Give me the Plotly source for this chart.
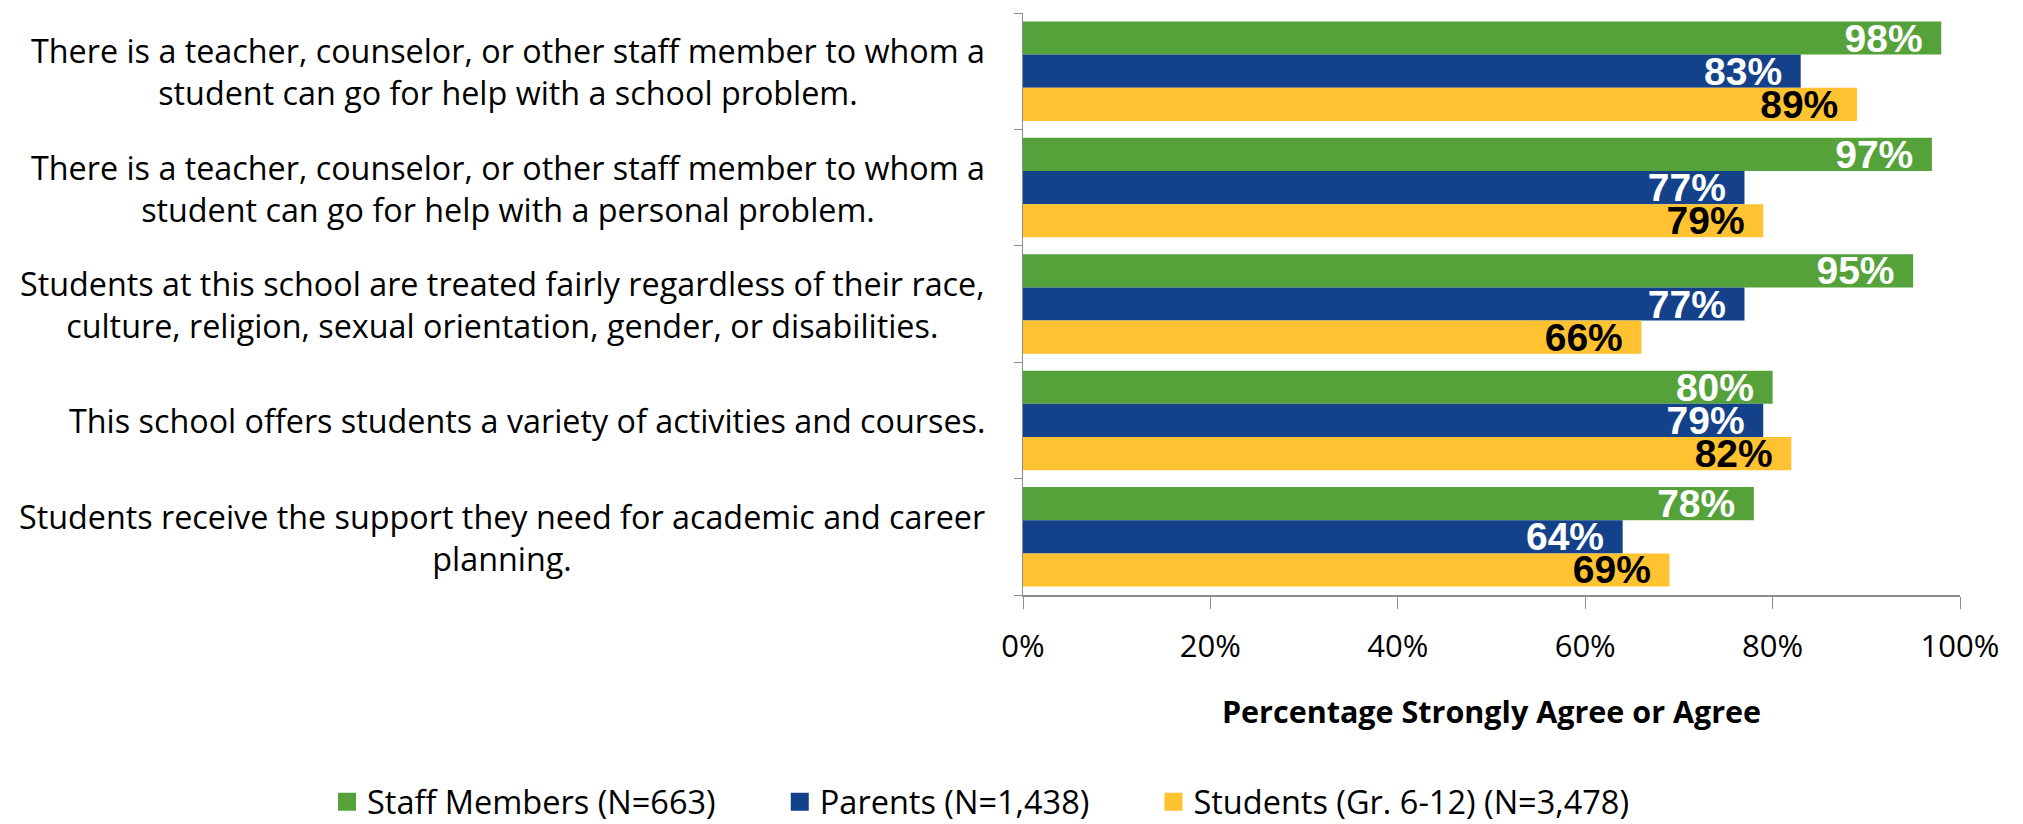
import plotly.graph_objects as go

categories = [
    "There is a teacher, counselor, or other staff member to whom a<br>student can go for help with a school problem.",
    "There is a teacher, counselor, or other staff member to whom a<br>student can go for help with a personal problem.",
    "Students at this school are treated fairly regardless of their race,<br>culture, religion, sexual orientation, gender, or disabilities.",
    "This school offers students a variety of activities and courses.",
    "Students receive the support they need for academic and career<br>planning.",
]
series_names = ["Staff Members (N=663)", "Parents (N=1,438)", "Students (Gr. 6-12) (N=3,478)"]
staff = [98, 97, 95, 80, 78]
parents = [83, 77, 77, 79, 64]
students = [89, 79, 66, 82, 69]
x_ticks = [0, 20, 40, 60, 80, 100]
x_tick_labels = ["0%", "20%", "40%", "60%", "80%", "100%"]
axis_title = "Percentage Strongly Agree or Agree"

colors = ["#55A23A", "#14428A", "#FFC230"]
label_colors = ["white", "white", "black"]
keys = list(range(len(categories)))

# page body has an 8px margin; figure sized so it fits the window
W, H = 2015, 816
L, R, T, B = 1015, 63, 5, 229
PW, PH = W - L - R, H - T - B

fig = go.Figure()
for name, vals, col, lc in zip(series_names, [staff, parents, students], colors, label_colors):
    fig.add_trace(go.Bar(
        y=keys, x=vals, name=name, orientation="h", showlegend=False,
        marker=dict(color=col, line=dict(width=0)),
        text=[f"{v}%\u2009\u2009" for v in vals],
        textposition="inside", insidetextanchor="end",
        constraintext="none",
        textfont=dict(family="Liberation Sans", size=39, color=lc, weight="bold"),
        hoverinfo="skip",
    ))
# legend entries with larger square swatches
for name, col in zip(series_names, colors):
    fig.add_trace(go.Scatter(
        x=[None], y=[None], mode="markers", name=name + "\u00a0" * 7,
        marker=dict(symbol="square", size=16, color=col, line=dict(width=2, color=col)),
        hoverinfo="skip",
    ))

for k, c in zip(keys, categories):
    fig.add_annotation(
        x=(979 - L) / PW, xref="paper", y=k, yref="y", text=c, showarrow=False,
        xanchor="right", yanchor="middle", align="center",
        font=dict(family="Open Sans", size=32.3, color="black"),
    )

fig.update_layout(
    width=W, height=H,
    margin=dict(l=L, r=R, t=T, b=B, autoexpand=False),
    plot_bgcolor="white", paper_bgcolor="white",
    barmode="group", bargap=0.145, bargroupgap=0,
    uniformtext=dict(minsize=39, mode="show"),
    showlegend=True,
    legend=dict(orientation="h", x=(319 - L) / PW, xanchor="left",
                y=(T + PH - 794) / PH, yanchor="middle",
                font=dict(family="Open Sans", size=32.5, color="black"), traceorder="normal"),
    xaxis=dict(range=[0, 100], tickvals=x_ticks, ticktext=x_tick_labels,
               showgrid=False, zeroline=False, showline=True, linecolor="#8C8C8C", linewidth=2,
               ticks="outside", ticklen=12, tickcolor="#8C8C8C", tickwidth=1,
               ticklabelstandoff=11,
               tickfont=dict(family="Open Sans", size=31, color="black"),
               title=dict(text=f"<b>{axis_title}</b>", standoff=36,
                          font=dict(family="Open Sans", size=30.5, color="black"))),
    yaxis=dict(autorange="reversed",
               showgrid=False, zeroline=False, showline=True, linecolor="#8C8C8C", linewidth=1,
               tickvals=[k + 0.5 for k in [-1] + keys], showticklabels=False,
               ticks="outside", ticklen=8, tickcolor="#8C8C8C"),
)
fig.write_html("out.html")
